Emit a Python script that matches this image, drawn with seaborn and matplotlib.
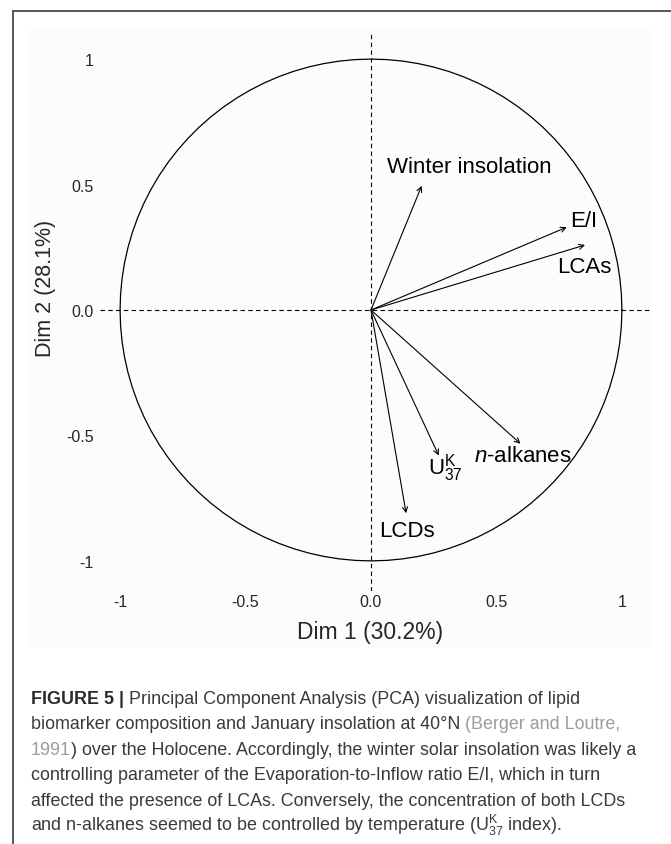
import numpy as np
import seaborn as sns
import matplotlib.pyplot as plt
from matplotlib.patches import Rectangle
from matplotlib.lines import Line2D

# PCA variable coordinates
variables = ["Winter insolation", "E/I", "LCAs", "n-alkanes", "U37K", "LCDs"]
dim1 = [0.202, 0.780, 0.853, 0.596, 0.270, 0.140]
dim2 = [0.495, 0.330, 0.259, -0.533, -0.580, -0.810]

# text shown next to each arrow
var_labels = ["Winter insolation", "E/I", "LCAs",
              r"$\mathit{n}$-alkanes", r"$\mathrm{U}^{\mathrm{K}}_{37}$", "LCDs"]

tick_values = [-1, -0.5, 0, 0.5, 1]
tick_labels = ["-1", "-0.5", "0.0", "0.5", "1"]

x_title = "Dim 1 (30.2%)"
y_title = "Dim 2 (28.1%)"

caption_lines = [
    [("FIGURE 5 |", "bold", "#2b2b2b"),
     ("Principal Component Analysis (PCA) visualization of lipid", "normal", "#3a3a3a")],
    [("biomarker composition and January insolation at 40°N", "normal", "#3a3a3a"),
     ("(Berger and Loutre,", "normal", "#9c9c9c")],
    [("1991", "normal", "#9c9c9c"),
     (") over the Holocene. Accordingly, the winter solar insolation was likely a", "normal", "#3a3a3a")],
    [("controlling parameter of the Evaporation-to-Inflow ratio E/I, which in turn", "normal", "#3a3a3a")],
    [("affected the presence of LCAs. Conversely, the concentration of both LCDs", "normal", "#3a3a3a")],
    [(r"and n-alkanes seemed to be controlled by temperature (U$^{\mathrm{K}}_{37}$ index).", "normal", "#3a3a3a")],
]
# no space between "1991" and ")"
caption_joins = [[True], [True], [False], [], [], []]

sns.set_style("white")
plt.rcParams["font.family"] = ["Liberation Sans", "DejaVu Sans"]
plt.rcParams["mathtext.fontset"] = "custom"
plt.rcParams["mathtext.rm"] = "Liberation Sans"
plt.rcParams["mathtext.it"] = "Liberation Sans:italic"
plt.rcParams["mathtext.bf"] = "Liberation Sans:bold"

W, H = 671, 845
fig = plt.figure(figsize=(W / 100, H / 100), dpi=100)

# light panel behind the plot image and the cropped frame lines
fig.add_artist(Rectangle((30 / W, 1 - 648 / H), 621 / W, 619 / H,
                         transform=fig.transFigure, facecolor="#fcfcfc",
                         edgecolor="none", zorder=-5))
fig.add_artist(Line2D([13 / W, 1], [1 - 12 / H, 1 - 12 / H],
                      transform=fig.transFigure, color="#4a4a4a", lw=1.3))
fig.add_artist(Line2D([13 / W, 13 / W], [1 - 12 / H, 0],
                      transform=fig.transFigure, color="#4a4a4a", lw=1.3))

ax = fig.add_axes([100 / W, 1 - 592 / H, 552 / W, 559 / H])
ax.set_facecolor("none")

# unit circle
theta = np.linspace(0, 2 * np.pi, 101)
sns.lineplot(x=np.cos(theta), y=np.sin(theta), sort=False, estimator=None,
             color="black", lw=0.9, ax=ax)

ax.axhline(0, color="black", lw=0.8, ls=(0, (4, 3)))
ax.axvline(0, color="black", lw=0.8, ls=(0, (4, 3)))

# arrows from origin
for x, y in zip(dim1, dim2):
    ax.annotate("", xy=(x, y), xytext=(0, 0),
                arrowprops=dict(arrowstyle="->", color="black", lw=0.8,
                                shrinkA=0, shrinkB=0, mutation_scale=9))

label_pos = {
    "Winter insolation": (0.39, 0.57),
    "E/I": (0.849, 0.355),
    "LCAs": (0.849, 0.175),
    "n-alkanes": (0.606, -0.581),
    "U37K": (0.295, -0.625),
    "LCDs": (0.143, -0.88),
}
for name, txt in zip(variables, var_labels):
    lx, ly = label_pos[name]
    ax.text(lx, ly, txt, fontsize=16, ha="center", va="center", color="black")

ax.set_xlim(-1.08, 1.12)
ax.set_ylim(-1.12, 1.108)
ax.set_xticks(tick_values, tick_labels, fontsize=11.5)
ax.set_yticks(tick_values, tick_labels, fontsize=11.5)
ax.tick_params(axis="x", direction="in", length=2.5, width=0.7, color="#555", pad=2)
ax.tick_params(axis="y", direction="out", length=2.5, width=0.7, color="#555", pad=2)
for s in ax.spines.values():
    s.set_visible(False)

ax.set_xlabel(x_title, fontsize=16.5)
ax.set_ylabel(y_title, fontsize=15.5)
ax.xaxis.label.set_va("center")
ax.yaxis.label.set_va("center")
ax.xaxis.set_label_coords((370 - 100) / 552, (592 - 633) / 559)
ax.yaxis.set_label_coords((46 - 100) / 552, (592 - 288) / 559)

# caption written piece by piece so the reference colours can differ
renderer = fig.canvas.get_renderer()
cap_size = 12.9
sp = fig.text(0, 0, "x x", fontsize=cap_size)
nsp = fig.text(0, 0, "xx", fontsize=cap_size)
space_w = sp.get_window_extent(renderer).width - nsp.get_window_extent(renderer).width
sp.remove()
nsp.remove()

baseline = 704
for i, pieces in enumerate(caption_lines):
    x = 31
    y = baseline + i * 25.5
    for j, (txt, weight, col) in enumerate(pieces):
        if j > 0 and caption_joins[i][j - 1]:
            x += space_w
        t = fig.text(x / W, 1 - y / H, txt, fontsize=cap_size, fontweight=weight,
                     color=col, ha="left", va="baseline")
        x += t.get_window_extent(renderer).width

fig.savefig("out.png", dpi=100)
